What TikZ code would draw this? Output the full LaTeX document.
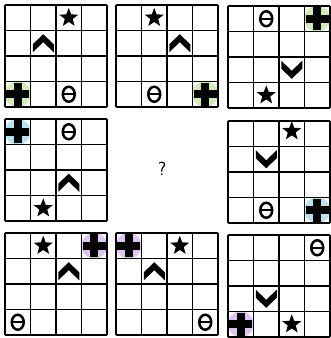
\documentclass[tikz,border=0pt]{standalone}
\usetikzlibrary{shapes.geometric}
\definecolor{cg}{HTML}{D2E9B8}
\definecolor{cb}{HTML}{BCE1EC}
\definecolor{cp}{HTML}{DCC6F0}
\tikzset{
  gl/.style={line width=1.2pt, black},
  starsym/.pic={\node[star,star points=5,star point ratio=2.4,fill=black,minimum size=20pt,inner sep=0pt] (-s) at (0,0) {};},
  chevup/.pic={\fill[black] (-10.5pt,-1pt) -- (0pt,9pt) -- (10.5pt,-1pt) -- (10.5pt,-9pt) -- (0pt,1pt) -- (-10.5pt,-9pt) -- cycle;},
  chevdown/.pic={\fill[black] (-10.5pt,1pt) -- (0pt,-9pt) -- (10.5pt,1pt) -- (10.5pt,9pt) -- (0pt,-1pt) -- (-10.5pt,9pt) -- cycle;},
  thetasym/.pic={\draw[black,line width=2.5pt] (0,0) ellipse [x radius=6pt, y radius=7.5pt]; \draw[black,line width=2pt] (-6pt,0)--(6pt,0);},
  crosssym/.pic={\fill[#1] (0,0) circle (13pt); \fill[black] (-11.5pt,-4pt) rectangle (11.5pt,4pt); \fill[black] (-4pt,-11.5pt) rectangle (4pt,11.5pt);},
  gridscope/.style={x=25.5pt,y=-25.5pt}
}
\newcommand\drawgrid{\foreach \i in {0,...,4} {\draw[gl] (\i,0)--(\i,4); \draw[gl] (0,\i)--(4,\i);}}
\begin{document}
\begin{tikzpicture}[x=1pt,y=-1pt]
\useasboundingbox (0,0) rectangle (331,338);
\fill[white] (0,0) rectangle (331,338);
% grid 1
\begin{scope}[shift={(5,5)},gridscope]
\pic (a1) at (0.5,3.5) {crosssym=cg};
\drawgrid
\pic (a2) at (2.5,0.5) {starsym};
\pic (a3) at (1.5,1.5) {chevup};
\pic (a4) at (2.5,3.5) {thetasym};
\end{scope}
% grid 2
\begin{scope}[shift={(116,5)},gridscope]
\pic (b1) at (3.5,3.5) {crosssym=cg};
\drawgrid
\pic (b2) at (1.5,0.5) {starsym};
\pic (b3) at (2.5,1.5) {chevup};
\pic (b4) at (1.5,3.5) {thetasym};
\end{scope}
% grid 3
\begin{scope}[shift={(228,6)},gridscope]
\pic (c1) at (3.5,0.5) {crosssym=cg};
\drawgrid
\pic (c2) at (1.5,3.5) {starsym};
\pic (c3) at (2.5,2.5) {chevdown};
\pic (c4) at (1.5,0.5) {thetasym};
\end{scope}
% grid 4
\begin{scope}[shift={(5,119)},gridscope]
\pic (d1) at (0.5,0.5) {crosssym=cb};
\drawgrid
\pic (d2) at (1.5,3.5) {starsym};
\pic (d3) at (2.5,2.5) {chevup};
\pic (d4) at (2.5,0.5) {thetasym};
\end{scope}
% question mark
\node[font=\sffamily\fontsize{19}{21}\selectfont] (q) at (162,169) {?};
% grid 6
\begin{scope}[shift={(228,121)},gridscope]
\pic (f1) at (3.5,3.5) {crosssym=cb};
\drawgrid
\pic (f2) at (2.5,0.4) {starsym};
\pic (f3) at (1.5,1.5) {chevdown};
\pic (f4) at (1.5,3.5) {thetasym};
\end{scope}
% grid 7
\begin{scope}[shift={(5,233)},gridscope]
\pic (g1) at (3.5,0.5) {crosssym=cp};
\drawgrid
\pic (g2) at (1.5,0.5) {starsym};
\pic (g3) at (2.5,1.5) {chevup};
\pic (g4) at (0.5,3.5) {thetasym};
\end{scope}
% grid 8
\begin{scope}[shift={(116,233)},gridscope]
\pic (h1) at (0.5,0.5) {crosssym=cp};
\drawgrid
\pic (h2) at (2.5,0.5) {starsym};
\pic (h3) at (1.5,1.5) {chevup};
\pic (h4) at (3.5,3.5) {thetasym};
\end{scope}
% grid 9
\begin{scope}[shift={(228,235)},gridscope]
\pic (i1) at (0.5,3.5) {crosssym=cp};
\drawgrid
\pic (i2) at (2.5,3.5) {starsym};
\pic (i3) at (1.5,2.5) {chevdown};
\pic (i4) at (3.5,0.5) {thetasym};
\end{scope}
\end{tikzpicture}
\end{document}
